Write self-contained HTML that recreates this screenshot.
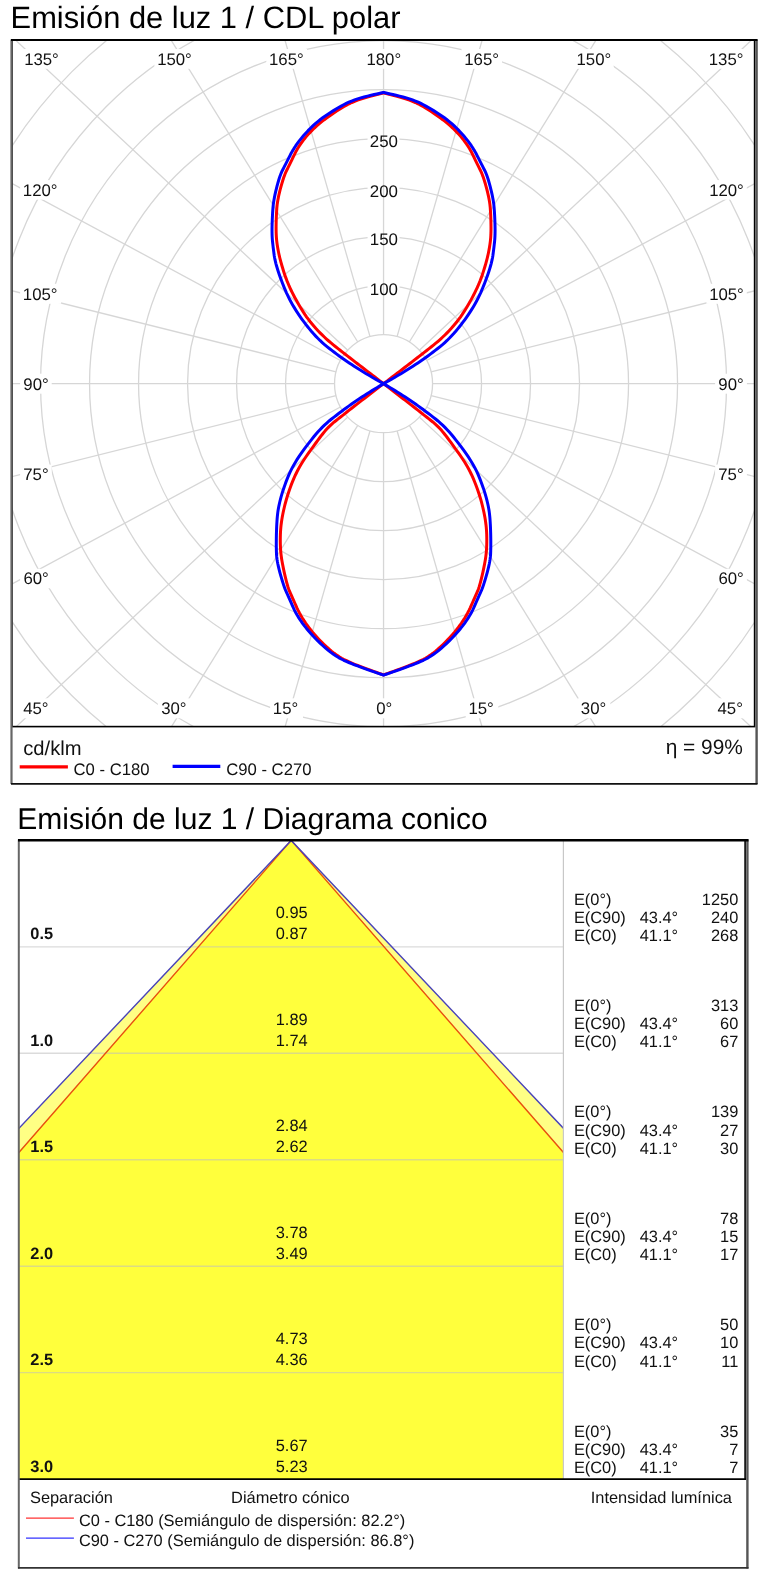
<!DOCTYPE html>
<html><head><meta charset="utf-8"><style>
html,body{margin:0;padding:0;background:#fff;}
body{width:764px;height:1585px;overflow:hidden;}
svg{display:block;font-family:"Liberation Sans",sans-serif;text-rendering:geometricPrecision;will-change:transform;}
</style></head><body>
<svg width="764" height="1585" viewBox="0 0 764 1585">
<clipPath id="pc"><rect x="12.0" y="40.0" width="742.6" height="686.6"/></clipPath>
<text x="10.56" y="28.3" font-size="30.86">Emisión de luz 1 / CDL polar</text>
<g clip-path="url(#pc)">
<circle cx="383.55" cy="383.7" r="49.00" fill="none" stroke="#d6d6d6" stroke-width="1.3"/>
<circle cx="383.55" cy="383.7" r="98.00" fill="none" stroke="#d6d6d6" stroke-width="1.3"/>
<circle cx="383.55" cy="383.7" r="147.00" fill="none" stroke="#d6d6d6" stroke-width="1.3"/>
<circle cx="383.55" cy="383.7" r="196.00" fill="none" stroke="#d6d6d6" stroke-width="1.3"/>
<circle cx="383.55" cy="383.7" r="245.00" fill="none" stroke="#d6d6d6" stroke-width="1.3"/>
<circle cx="383.55" cy="383.7" r="294.00" fill="none" stroke="#d6d6d6" stroke-width="1.3"/>
<circle cx="383.55" cy="383.7" r="343.00" fill="none" stroke="#d6d6d6" stroke-width="1.3"/>
<circle cx="383.55" cy="383.7" r="392.00" fill="none" stroke="#d6d6d6" stroke-width="1.3"/>
<circle cx="383.55" cy="383.7" r="441.00" fill="none" stroke="#d6d6d6" stroke-width="1.3"/>
<rect x="367.55" y="281.0" width="32" height="16" fill="#fff"/>
<rect x="367.55" y="231.5" width="32" height="16" fill="#fff"/>
<rect x="367.55" y="182.65" width="32" height="16" fill="#fff"/>
<rect x="367.55" y="133.2" width="32" height="16" fill="#fff"/>
<line x1="383.55" y1="334.70" x2="383.55" y2="-416.30" stroke="#d6d6d6" stroke-width="1.3"/>
<line x1="397.07" y1="336.60" x2="604.22" y2="-385.26" stroke="#d6d6d6" stroke-width="1.3"/>
<line x1="409.32" y1="342.02" x2="804.29" y2="-296.73" stroke="#d6d6d6" stroke-width="1.3"/>
<line x1="419.37" y1="350.26" x2="968.29" y2="-162.27" stroke="#d6d6d6" stroke-width="1.3"/>
<line x1="426.68" y1="360.45" x2="1087.75" y2="4.08" stroke="#d6d6d6" stroke-width="1.3"/>
<line x1="431.08" y1="371.81" x2="1159.63" y2="189.54" stroke="#d6d6d6" stroke-width="1.3"/>
<line x1="432.55" y1="383.70" x2="1183.55" y2="383.70" stroke="#d6d6d6" stroke-width="1.3"/>
<line x1="431.08" y1="395.59" x2="1159.63" y2="577.86" stroke="#d6d6d6" stroke-width="1.3"/>
<line x1="426.68" y1="406.95" x2="1087.75" y2="763.32" stroke="#d6d6d6" stroke-width="1.3"/>
<line x1="419.37" y1="417.14" x2="968.29" y2="929.67" stroke="#d6d6d6" stroke-width="1.3"/>
<line x1="409.32" y1="425.38" x2="804.29" y2="1064.13" stroke="#d6d6d6" stroke-width="1.3"/>
<line x1="397.07" y1="430.80" x2="604.22" y2="1152.66" stroke="#d6d6d6" stroke-width="1.3"/>
<line x1="383.55" y1="432.70" x2="383.55" y2="1183.70" stroke="#d6d6d6" stroke-width="1.3"/>
<line x1="370.03" y1="430.80" x2="162.88" y2="1152.66" stroke="#d6d6d6" stroke-width="1.3"/>
<line x1="357.78" y1="425.38" x2="-37.19" y2="1064.13" stroke="#d6d6d6" stroke-width="1.3"/>
<line x1="347.73" y1="417.14" x2="-201.19" y2="929.67" stroke="#d6d6d6" stroke-width="1.3"/>
<line x1="340.42" y1="406.95" x2="-320.65" y2="763.32" stroke="#d6d6d6" stroke-width="1.3"/>
<line x1="336.02" y1="395.59" x2="-392.53" y2="577.86" stroke="#d6d6d6" stroke-width="1.3"/>
<line x1="334.55" y1="383.70" x2="-416.45" y2="383.70" stroke="#d6d6d6" stroke-width="1.3"/>
<line x1="336.02" y1="371.81" x2="-392.53" y2="189.54" stroke="#d6d6d6" stroke-width="1.3"/>
<line x1="340.42" y1="360.45" x2="-320.65" y2="4.08" stroke="#d6d6d6" stroke-width="1.3"/>
<line x1="347.73" y1="350.26" x2="-201.19" y2="-162.27" stroke="#d6d6d6" stroke-width="1.3"/>
<line x1="357.78" y1="342.02" x2="-37.19" y2="-296.73" stroke="#d6d6d6" stroke-width="1.3"/>
<line x1="370.03" y1="336.60" x2="162.88" y2="-385.26" stroke="#d6d6d6" stroke-width="1.3"/>
</g>
<text x="383.85" y="294.92" font-size="16.9" text-anchor="middle" font-weight="normal" fill="#111" >100</text>
<text x="383.85" y="245.41" font-size="16.9" text-anchor="middle" font-weight="normal" fill="#111" >150</text>
<text x="383.85" y="196.56" font-size="16.9" text-anchor="middle" font-weight="normal" fill="#111" >200</text>
<text x="383.85" y="147.11" font-size="16.9" text-anchor="middle" font-weight="normal" fill="#111" >250</text>
<rect x="21.40" y="49.00" width="40.40" height="19.80" fill="#fff"/>
<rect x="154.40" y="49.00" width="40.30" height="19.80" fill="#fff"/>
<rect x="266.30" y="49.00" width="40.70" height="19.80" fill="#fff"/>
<rect x="363.70" y="49.00" width="40.50" height="19.80" fill="#fff"/>
<rect x="461.50" y="49.00" width="40.50" height="19.80" fill="#fff"/>
<rect x="573.80" y="49.00" width="39.90" height="19.80" fill="#fff"/>
<rect x="706.00" y="49.00" width="40.50" height="19.80" fill="#fff"/>
<rect x="20.10" y="180.10" width="41.00" height="19.60" fill="#fff"/>
<rect x="20.10" y="283.80" width="41.00" height="20.00" fill="#fff"/>
<rect x="20.10" y="373.70" width="31.60" height="20.00" fill="#fff"/>
<rect x="20.10" y="464.60" width="31.60" height="19.40" fill="#fff"/>
<rect x="20.10" y="568.80" width="31.60" height="19.50" fill="#fff"/>
<rect x="706.40" y="180.10" width="40.40" height="19.60" fill="#fff"/>
<rect x="706.40" y="283.80" width="40.40" height="20.00" fill="#fff"/>
<rect x="715.10" y="373.70" width="31.80" height="20.00" fill="#fff"/>
<rect x="715.10" y="464.60" width="31.80" height="19.40" fill="#fff"/>
<rect x="715.10" y="568.80" width="31.80" height="19.50" fill="#fff"/>
<rect x="19.60" y="698.30" width="33.70" height="20.00" fill="#fff"/>
<rect x="157.80" y="698.30" width="32.10" height="20.00" fill="#fff"/>
<rect x="270.10" y="698.30" width="32.90" height="20.00" fill="#fff"/>
<rect x="372.80" y="698.30" width="23.70" height="20.00" fill="#fff"/>
<rect x="465.70" y="698.30" width="32.60" height="20.00" fill="#fff"/>
<rect x="577.50" y="698.30" width="32.80" height="20.00" fill="#fff"/>
<rect x="713.90" y="698.30" width="33.30" height="20.00" fill="#fff"/>
<text x="24.14" y="64.80" font-size="16.8" text-anchor="start" font-weight="normal" fill="#111" >135°</text>
<text x="157.14" y="64.80" font-size="16.8" text-anchor="start" font-weight="normal" fill="#111" >150°</text>
<text x="269.04" y="64.80" font-size="16.8" text-anchor="start" font-weight="normal" fill="#111" >165°</text>
<text x="366.44" y="64.80" font-size="16.8" text-anchor="start" font-weight="normal" fill="#111" >180°</text>
<text x="464.24" y="64.80" font-size="16.8" text-anchor="start" font-weight="normal" fill="#111" >165°</text>
<text x="576.54" y="64.80" font-size="16.8" text-anchor="start" font-weight="normal" fill="#111" >150°</text>
<text x="708.74" y="64.80" font-size="16.8" text-anchor="start" font-weight="normal" fill="#111" >135°</text>
<text x="22.84" y="195.70" font-size="16.8" text-anchor="start" font-weight="normal" fill="#111" >120°</text>
<text x="22.84" y="299.80" font-size="16.8" text-anchor="start" font-weight="normal" fill="#111" >105°</text>
<text x="23.34" y="389.70" font-size="16.8" text-anchor="start" font-weight="normal" fill="#111" >90°</text>
<text x="23.26" y="480.00" font-size="16.8" text-anchor="start" font-weight="normal" fill="#111" >75°</text>
<text x="23.43" y="584.30" font-size="16.8" text-anchor="start" font-weight="normal" fill="#111" >60°</text>
<text x="709.14" y="195.70" font-size="16.8" text-anchor="start" font-weight="normal" fill="#111" >120°</text>
<text x="709.14" y="299.80" font-size="16.8" text-anchor="start" font-weight="normal" fill="#111" >105°</text>
<text x="718.34" y="389.70" font-size="16.8" text-anchor="start" font-weight="normal" fill="#111" >90°</text>
<text x="718.26" y="480.00" font-size="16.8" text-anchor="start" font-weight="normal" fill="#111" >75°</text>
<text x="718.43" y="584.30" font-size="16.8" text-anchor="start" font-weight="normal" fill="#111" >60°</text>
<text x="23.18" y="714.30" font-size="16.8" text-anchor="start" font-weight="normal" fill="#111" >45°</text>
<text x="161.13" y="714.30" font-size="16.8" text-anchor="start" font-weight="normal" fill="#111" >30°</text>
<text x="272.84" y="714.30" font-size="16.8" text-anchor="start" font-weight="normal" fill="#111" >15°</text>
<text x="376.13" y="714.30" font-size="16.8" text-anchor="start" font-weight="normal" fill="#111" >0°</text>
<text x="468.44" y="714.30" font-size="16.8" text-anchor="start" font-weight="normal" fill="#111" >15°</text>
<text x="580.83" y="714.30" font-size="16.8" text-anchor="start" font-weight="normal" fill="#111" >30°</text>
<text x="717.48" y="714.30" font-size="16.8" text-anchor="start" font-weight="normal" fill="#111" >45°</text>
<path d="M383.55,383.70 L383.24,383.46 L382.62,382.99 L381.69,382.28 L380.45,381.33 L378.90,380.14 L377.03,378.72 L374.86,377.06 L372.38,375.16 L369.90,373.26 L367.42,371.36 L364.94,369.45 L362.46,367.55 L359.98,365.64 L357.51,363.74 L355.04,361.83 L352.56,359.92 L350.11,358.01 L347.66,356.11 L345.23,354.22 L342.82,352.34 L340.42,350.46 L338.04,348.58 L335.67,346.72 L333.32,344.86 L331.00,342.96 L328.73,341.01 L326.50,339.03 L324.31,337.01 L322.16,334.95 L320.05,332.84 L317.98,330.70 L315.96,328.52 L313.99,326.29 L312.08,324.03 L310.22,321.74 L308.43,319.40 L306.69,317.02 L305.01,314.61 L303.39,312.16 L301.83,309.67 L300.32,307.20 L298.85,304.73 L297.44,302.28 L296.07,299.85 L294.75,297.43 L293.49,295.02 L292.27,292.62 L291.10,290.24 L289.98,287.84 L288.90,285.43 L287.88,283.01 L286.89,280.57 L285.96,278.12 L285.07,275.65 L284.23,273.17 L283.44,270.68 L282.70,268.28 L282.01,265.98 L281.37,263.78 L280.78,261.67 L280.25,259.66 L279.76,257.75 L279.33,255.93 L278.95,254.22 L278.59,252.51 L278.25,250.81 L277.94,249.12 L277.65,247.45 L277.38,245.78 L277.13,244.13 L276.91,242.49 L276.71,240.85 L276.54,239.12 L276.39,237.30 L276.28,235.39 L276.19,233.37 L276.13,231.27 L276.10,229.06 L276.10,226.77 L276.13,224.38 L276.17,222.03 L276.23,219.72 L276.31,217.45 L276.40,215.23 L276.51,213.05 L276.64,210.91 L276.78,208.81 L276.94,206.75 L277.17,204.59 L277.49,202.31 L277.89,199.92 L278.36,197.42 L278.92,194.81 L279.55,192.09 L280.26,189.25 L281.05,186.31 L281.84,183.55 L282.62,180.96 L283.40,178.56 L284.17,176.34 L284.95,174.30 L285.71,172.44 L286.48,170.77 L287.24,169.27 L288.05,167.66 L288.90,165.94 L289.80,164.11 L290.76,162.17 L291.76,160.11 L292.80,157.94 L293.90,155.67 L295.04,153.28 L296.29,150.90 L297.64,148.54 L299.11,146.18 L300.67,143.84 L302.35,141.51 L304.13,139.20 L306.02,136.89 L308.01,134.60 L310.08,132.36 L312.22,130.17 L314.43,128.02 L316.71,125.93 L319.06,123.88 L321.48,121.89 L323.98,119.94 L326.55,118.04 L329.10,116.21 L331.63,114.44 L334.15,112.73 L336.65,111.08 L339.14,109.50 L341.60,107.97 L344.05,106.52 L346.49,105.12 L349.06,103.78 L351.78,102.51 L354.64,101.29 L357.64,100.13 L360.78,99.04 L364.07,98.00 L367.49,97.03 L371.06,96.11 L374.18,95.31 L376.86,94.62 L379.09,94.05 L380.87,93.59 L382.21,93.24 L383.10,93.01 L383.55,92.90 L384.00,93.01 L384.89,93.24 L386.23,93.59 L388.01,94.05 L390.24,94.62 L392.92,95.31 L396.04,96.11 L399.61,97.03 L403.03,98.00 L406.32,99.04 L409.46,100.13 L412.46,101.29 L415.32,102.51 L418.04,103.78 L420.61,105.12 L423.05,106.52 L425.50,107.97 L427.96,109.50 L430.45,111.08 L432.95,112.73 L435.47,114.44 L438.00,116.21 L440.55,118.04 L443.12,119.94 L445.62,121.89 L448.04,123.88 L450.39,125.93 L452.67,128.02 L454.88,130.17 L457.02,132.36 L459.09,134.60 L461.08,136.89 L462.97,139.20 L464.75,141.51 L466.43,143.84 L467.99,146.18 L469.46,148.54 L470.81,150.90 L472.06,153.28 L473.20,155.67 L474.30,157.94 L475.34,160.11 L476.34,162.17 L477.30,164.11 L478.20,165.94 L479.05,167.66 L479.86,169.27 L480.62,170.77 L481.39,172.44 L482.15,174.30 L482.93,176.34 L483.70,178.56 L484.48,180.96 L485.26,183.55 L486.05,186.31 L486.84,189.25 L487.55,192.09 L488.18,194.81 L488.74,197.42 L489.21,199.92 L489.61,202.31 L489.93,204.59 L490.16,206.75 L490.32,208.81 L490.46,210.91 L490.59,213.05 L490.70,215.23 L490.79,217.45 L490.87,219.72 L490.93,222.03 L490.97,224.38 L491.00,226.77 L491.00,229.06 L490.97,231.27 L490.91,233.37 L490.82,235.39 L490.71,237.30 L490.56,239.12 L490.39,240.85 L490.19,242.49 L489.97,244.13 L489.72,245.78 L489.45,247.45 L489.16,249.12 L488.85,250.81 L488.51,252.51 L488.15,254.22 L487.77,255.93 L487.34,257.75 L486.85,259.66 L486.32,261.67 L485.73,263.78 L485.09,265.98 L484.40,268.28 L483.66,270.68 L482.87,273.17 L482.03,275.65 L481.14,278.12 L480.21,280.57 L479.22,283.01 L478.20,285.43 L477.12,287.84 L476.00,290.24 L474.83,292.62 L473.61,295.02 L472.35,297.43 L471.03,299.85 L469.66,302.28 L468.25,304.73 L466.78,307.20 L465.27,309.67 L463.71,312.16 L462.09,314.61 L460.41,317.02 L458.67,319.40 L456.88,321.74 L455.02,324.03 L453.11,326.29 L451.14,328.52 L449.12,330.70 L447.05,332.84 L444.94,334.95 L442.79,337.01 L440.60,339.03 L438.37,341.01 L436.10,342.96 L433.78,344.86 L431.43,346.72 L429.06,348.58 L426.68,350.46 L424.28,352.34 L421.87,354.22 L419.44,356.11 L416.99,358.01 L414.54,359.92 L412.06,361.83 L409.59,363.74 L407.12,365.64 L404.64,367.55 L402.16,369.45 L399.68,371.36 L397.20,373.26 L394.72,375.16 L392.24,377.06 L390.07,378.72 L388.20,380.14 L386.65,381.33 L385.41,382.28 L384.48,382.99 L383.86,383.46 L383.55,383.70" fill="none" stroke="#ff0000" stroke-width="3" stroke-linejoin="round"/>
<path d="M383.55,383.70 L383.23,383.95 L382.59,384.44 L381.62,385.17 L380.33,386.16 L378.73,387.39 L376.80,388.86 L374.55,390.58 L371.97,392.54 L369.41,394.51 L366.85,396.47 L364.30,398.44 L361.76,400.40 L359.22,402.37 L356.70,404.33 L354.18,406.29 L351.67,408.26 L349.23,410.16 L346.87,412.02 L344.58,413.81 L342.36,415.56 L340.22,417.25 L338.15,418.88 L336.16,420.46 L334.24,421.98 L332.34,423.61 L330.47,425.33 L328.62,427.15 L326.79,429.08 L324.98,431.10 L323.20,433.22 L321.44,435.45 L319.70,437.77 L317.95,440.12 L316.21,442.49 L314.46,444.89 L312.70,447.31 L310.95,449.75 L309.18,452.22 L307.42,454.72 L305.65,457.24 L303.96,459.75 L302.35,462.26 L300.83,464.76 L299.38,467.26 L298.02,469.75 L296.74,472.24 L295.54,474.73 L294.42,477.21 L293.35,479.69 L292.31,482.18 L291.32,484.67 L290.38,487.17 L289.48,489.67 L288.62,492.18 L287.80,494.69 L287.03,497.21 L286.29,499.72 L285.60,502.23 L284.94,504.74 L284.32,507.24 L283.74,509.74 L283.19,512.24 L282.69,514.73 L282.22,517.22 L281.80,519.72 L281.44,522.22 L281.12,524.71 L280.86,527.22 L280.65,529.72 L280.49,532.23 L280.38,534.74 L280.32,537.25 L280.30,539.70 L280.31,542.07 L280.35,544.38 L280.43,546.61 L280.54,548.77 L280.69,550.87 L280.87,552.89 L281.08,554.84 L281.35,556.93 L281.68,559.16 L282.07,561.52 L282.53,564.01 L283.04,566.64 L283.60,569.41 L284.23,572.31 L284.92,575.35 L285.59,578.16 L286.24,580.76 L286.87,583.13 L287.48,585.28 L288.07,587.20 L288.65,588.91 L289.20,590.39 L289.74,591.65 L290.35,593.07 L291.05,594.67 L291.82,596.44 L292.68,598.37 L293.61,600.47 L294.63,602.74 L295.72,605.18 L296.90,607.79 L298.14,610.37 L299.47,612.93 L300.86,615.45 L302.33,617.94 L303.87,620.41 L305.49,622.85 L307.17,625.26 L308.94,627.64 L310.80,630.03 L312.76,632.43 L314.82,634.83 L316.99,637.24 L319.25,639.66 L321.62,642.09 L324.08,644.52 L326.65,646.96 L329.19,649.24 L331.72,651.36 L334.23,653.32 L336.73,655.12 L339.20,656.76 L341.66,658.24 L344.10,659.55 L346.52,660.71 L349.09,661.88 L351.80,663.06 L354.65,664.26 L357.65,665.47 L360.78,666.70 L364.07,667.94 L367.49,669.19 L371.06,670.46 L374.18,671.57 L376.86,672.52 L379.09,673.31 L380.87,673.95 L382.21,674.42 L383.10,674.74 L383.55,674.90 L384.00,674.74 L384.89,674.42 L386.23,673.95 L388.01,673.31 L390.24,672.52 L392.92,671.57 L396.04,670.46 L399.61,669.19 L403.03,667.94 L406.32,666.70 L409.45,665.47 L412.45,664.26 L415.30,663.06 L418.01,661.88 L420.58,660.71 L423.00,659.55 L425.44,658.24 L427.90,656.76 L430.37,655.12 L432.87,653.32 L435.38,651.36 L437.91,649.24 L440.45,646.96 L443.02,644.52 L445.48,642.09 L447.85,639.66 L450.11,637.24 L452.28,634.83 L454.34,632.43 L456.30,630.03 L458.16,627.64 L459.93,625.26 L461.61,622.85 L463.23,620.41 L464.77,617.94 L466.24,615.45 L467.63,612.93 L468.96,610.37 L470.20,607.79 L471.38,605.18 L472.47,602.74 L473.49,600.47 L474.42,598.37 L475.28,596.44 L476.05,594.67 L476.75,593.07 L477.36,591.65 L477.90,590.39 L478.45,588.91 L479.03,587.20 L479.62,585.28 L480.23,583.13 L480.86,580.76 L481.51,578.16 L482.18,575.35 L482.87,572.31 L483.50,569.41 L484.06,566.64 L484.57,564.01 L485.03,561.52 L485.42,559.16 L485.75,556.93 L486.02,554.84 L486.23,552.89 L486.41,550.87 L486.56,548.77 L486.67,546.61 L486.75,544.38 L486.79,542.07 L486.80,539.70 L486.78,537.25 L486.72,534.74 L486.61,532.23 L486.45,529.72 L486.24,527.22 L485.98,524.71 L485.66,522.22 L485.30,519.72 L484.88,517.22 L484.41,514.73 L483.91,512.24 L483.36,509.74 L482.78,507.24 L482.16,504.74 L481.50,502.23 L480.81,499.72 L480.07,497.21 L479.30,494.69 L478.48,492.18 L477.62,489.67 L476.72,487.17 L475.78,484.67 L474.79,482.18 L473.75,479.69 L472.68,477.21 L471.56,474.73 L470.36,472.24 L469.08,469.75 L467.72,467.26 L466.27,464.76 L464.75,462.26 L463.14,459.75 L461.45,457.24 L459.68,454.72 L457.92,452.22 L456.15,449.75 L454.40,447.31 L452.64,444.89 L450.89,442.49 L449.15,440.12 L447.40,437.77 L445.66,435.45 L443.90,433.22 L442.12,431.10 L440.31,429.08 L438.48,427.15 L436.63,425.33 L434.76,423.61 L432.86,421.98 L430.94,420.46 L428.95,418.88 L426.88,417.25 L424.74,415.56 L422.52,413.81 L420.23,412.02 L417.87,410.16 L415.43,408.26 L412.92,406.29 L410.40,404.33 L407.88,402.37 L405.34,400.40 L402.80,398.44 L400.25,396.47 L397.69,394.51 L395.13,392.54 L392.55,390.58 L390.30,388.86 L388.37,387.39 L386.77,386.16 L385.48,385.17 L384.51,384.44 L383.87,383.95 L383.55,383.70" fill="none" stroke="#ff0000" stroke-width="3" stroke-linejoin="round"/>
<path d="M383.55,383.70 L383.44,383.64 L383.22,383.52 L382.90,383.33 L382.46,383.09 L381.91,382.79 L381.26,382.42 L380.49,381.99 L379.62,381.50 L378.57,380.91 L377.33,380.20 L375.92,379.39 L374.32,378.46 L372.55,377.43 L370.59,376.29 L368.45,375.04 L366.14,373.68 L363.79,372.27 L361.42,370.83 L359.03,369.34 L356.61,367.80 L354.17,366.23 L351.70,364.61 L349.21,362.95 L346.69,361.24 L344.18,359.51 L341.68,357.75 L339.20,355.96 L336.73,354.14 L334.27,352.29 L331.82,350.41 L329.38,348.51 L326.96,346.57 L324.59,344.59 L322.28,342.54 L320.02,340.45 L317.82,338.30 L315.68,336.09 L313.59,333.84 L311.56,331.53 L309.59,329.16 L307.66,326.78 L305.78,324.38 L303.95,321.96 L302.17,319.53 L300.43,317.08 L298.74,314.61 L297.10,312.13 L295.51,309.63 L293.99,307.14 L292.53,304.67 L291.15,302.22 L289.84,299.78 L288.61,297.36 L287.44,294.95 L286.34,292.56 L285.32,290.19 L284.32,287.80 L283.34,285.40 L282.39,282.98 L281.46,280.55 L280.56,278.11 L279.69,275.65 L278.84,273.18 L278.01,270.69 L277.26,268.31 L276.58,266.01 L275.97,263.81 L275.44,261.71 L274.98,259.71 L274.60,257.79 L274.29,255.98 L274.06,254.26 L273.83,252.55 L273.61,250.85 L273.40,249.16 L273.19,247.48 L273.00,245.80 L272.81,244.14 L272.63,242.49 L272.46,240.85 L272.31,239.11 L272.20,237.28 L272.11,235.36 L272.06,233.35 L272.03,231.25 L272.03,229.05 L272.06,226.76 L272.12,224.38 L272.19,222.04 L272.27,219.74 L272.37,217.48 L272.48,215.26 L272.60,213.09 L272.74,210.95 L272.89,208.86 L273.05,206.81 L273.28,204.65 L273.59,202.37 L273.97,199.98 L274.42,197.48 L274.95,194.86 L275.54,192.13 L276.22,189.28 L276.96,186.32 L277.71,183.55 L278.46,180.96 L279.21,178.55 L279.97,176.32 L280.73,174.28 L281.49,172.42 L282.25,170.74 L283.01,169.24 L283.84,167.64 L284.71,165.92 L285.65,164.09 L286.64,162.15 L287.69,160.10 L288.79,157.94 L289.95,155.67 L291.16,153.29 L292.51,150.87 L294.00,148.43 L295.62,145.96 L297.37,143.46 L299.26,140.94 L301.28,138.38 L303.43,135.79 L305.72,133.18 L308.05,130.66 L310.43,128.24 L312.85,125.91 L315.32,123.68 L317.83,121.55 L320.39,119.51 L323.00,117.57 L325.65,115.73 L328.28,113.95 L330.89,112.25 L333.49,110.61 L336.07,109.04 L338.63,107.54 L341.18,106.11 L343.71,104.75 L346.23,103.45 L348.87,102.22 L351.65,101.05 L354.56,99.94 L357.60,98.88 L360.77,97.89 L364.07,96.96 L367.50,96.09 L371.07,95.28 L374.19,94.57 L376.86,93.97 L379.09,93.46 L380.88,93.06 L382.21,92.75 L383.10,92.55 L383.55,92.45 L384.00,92.55 L384.89,92.75 L386.22,93.06 L388.01,93.46 L390.24,93.97 L392.91,94.57 L396.03,95.28 L399.60,96.09 L403.03,96.96 L406.33,97.89 L409.50,98.88 L412.54,99.94 L415.45,101.05 L418.23,102.22 L420.87,103.45 L423.39,104.75 L425.92,106.11 L428.47,107.54 L431.03,109.04 L433.61,110.61 L436.21,112.25 L438.82,113.95 L441.45,115.73 L444.10,117.57 L446.71,119.51 L449.27,121.55 L451.78,123.68 L454.25,125.91 L456.67,128.24 L459.05,130.66 L461.38,133.18 L463.67,135.79 L465.82,138.38 L467.84,140.94 L469.73,143.46 L471.48,145.96 L473.10,148.43 L474.59,150.87 L475.94,153.29 L477.15,155.67 L478.31,157.94 L479.41,160.10 L480.46,162.15 L481.45,164.09 L482.39,165.92 L483.26,167.64 L484.09,169.24 L484.85,170.74 L485.61,172.42 L486.37,174.28 L487.13,176.32 L487.89,178.55 L488.64,180.96 L489.39,183.55 L490.14,186.32 L490.88,189.28 L491.56,192.13 L492.15,194.86 L492.68,197.48 L493.13,199.98 L493.51,202.37 L493.82,204.65 L494.05,206.81 L494.21,208.86 L494.36,210.95 L494.50,213.09 L494.62,215.26 L494.73,217.48 L494.83,219.74 L494.91,222.04 L494.98,224.38 L495.04,226.76 L495.07,229.05 L495.07,231.25 L495.04,233.35 L494.99,235.36 L494.90,237.28 L494.79,239.11 L494.64,240.85 L494.47,242.49 L494.29,244.14 L494.10,245.80 L493.91,247.48 L493.70,249.16 L493.49,250.85 L493.27,252.55 L493.04,254.26 L492.81,255.98 L492.50,257.79 L492.12,259.71 L491.66,261.71 L491.13,263.81 L490.52,266.01 L489.84,268.31 L489.09,270.69 L488.26,273.18 L487.41,275.65 L486.54,278.11 L485.64,280.55 L484.71,282.98 L483.76,285.40 L482.78,287.80 L481.78,290.19 L480.76,292.56 L479.66,294.95 L478.49,297.36 L477.26,299.78 L475.95,302.22 L474.57,304.67 L473.11,307.14 L471.59,309.63 L470.00,312.13 L468.36,314.61 L466.67,317.08 L464.93,319.53 L463.15,321.96 L461.32,324.38 L459.44,326.78 L457.51,329.16 L455.54,331.53 L453.51,333.84 L451.42,336.09 L449.28,338.30 L447.08,340.45 L444.82,342.54 L442.51,344.59 L440.14,346.57 L437.72,348.51 L435.28,350.41 L432.83,352.29 L430.37,354.14 L427.90,355.96 L425.42,357.75 L422.92,359.51 L420.41,361.24 L417.89,362.95 L415.40,364.61 L412.93,366.23 L410.49,367.80 L408.07,369.34 L405.68,370.83 L403.31,372.27 L400.96,373.68 L398.65,375.04 L396.51,376.29 L394.55,377.43 L392.78,378.46 L391.18,379.39 L389.77,380.20 L388.53,380.91 L387.48,381.50 L386.61,381.99 L385.84,382.42 L385.19,382.79 L384.64,383.09 L384.20,383.33 L383.88,383.52 L383.66,383.64 L383.55,383.70" fill="none" stroke="#0000ff" stroke-width="3" stroke-linejoin="round"/>
<path d="M383.55,383.70 L383.23,383.89 L382.59,384.27 L381.64,384.85 L380.36,385.62 L378.77,386.57 L376.86,387.72 L374.62,389.06 L372.07,390.60 L369.52,392.16 L366.97,393.76 L364.41,395.40 L361.85,397.07 L359.29,398.77 L356.72,400.51 L354.15,402.28 L351.58,404.08 L349.03,405.90 L346.49,407.73 L343.96,409.58 L341.45,411.43 L338.95,413.30 L336.47,415.18 L334.00,417.08 L331.55,418.98 L329.14,420.97 L326.78,423.03 L324.46,425.17 L322.19,427.39 L319.97,429.69 L317.79,432.06 L315.66,434.52 L313.58,437.05 L311.54,439.58 L309.55,442.10 L307.61,444.63 L305.71,447.14 L303.86,449.66 L302.06,452.17 L300.31,454.68 L298.60,457.18 L296.98,459.68 L295.43,462.18 L293.97,464.68 L292.59,467.18 L291.30,469.68 L290.08,472.17 L288.95,474.66 L287.90,477.16 L286.89,479.65 L285.92,482.15 L285.00,484.65 L284.12,487.15 L283.28,489.66 L282.48,492.16 L281.73,494.67 L281.01,497.19 L280.36,499.63 L279.77,502.01 L279.24,504.31 L278.77,506.55 L278.36,508.72 L278.02,510.82 L277.73,512.85 L277.51,514.81 L277.30,516.91 L277.11,519.14 L276.95,521.50 L276.80,524.00 L276.67,526.63 L276.56,529.40 L276.47,532.31 L276.39,535.34 L276.34,538.25 L276.31,541.02 L276.30,543.65 L276.31,546.15 L276.34,548.51 L276.39,550.75 L276.46,552.84 L276.55,554.81 L276.73,556.90 L277.02,559.13 L277.39,561.50 L277.86,564.00 L278.43,566.64 L279.09,569.40 L279.84,572.31 L280.69,575.35 L281.50,578.16 L282.28,580.75 L283.03,583.12 L283.73,585.26 L284.41,587.18 L285.05,588.88 L285.65,590.35 L286.21,591.60 L286.85,593.02 L287.56,594.61 L288.34,596.37 L289.20,598.30 L290.12,600.40 L291.11,602.67 L292.18,605.11 L293.32,607.72 L294.57,610.33 L295.93,612.93 L297.41,615.53 L299.00,618.12 L300.71,620.71 L302.53,623.29 L304.46,625.87 L306.50,628.44 L308.62,630.99 L310.82,633.51 L313.09,636.01 L315.45,638.48 L317.87,640.93 L320.38,643.35 L322.96,645.74 L325.62,648.11 L328.26,650.32 L330.88,652.37 L333.48,654.27 L336.07,656.01 L338.63,657.59 L341.18,659.01 L343.71,660.27 L346.22,661.38 L348.86,662.50 L351.63,663.64 L354.54,664.80 L357.58,665.97 L360.75,667.16 L364.05,668.36 L367.49,669.58 L371.06,670.82 L374.18,671.90 L376.86,672.83 L379.09,673.60 L380.87,674.22 L382.21,674.69 L383.10,675.00 L383.55,675.15 L384.00,675.00 L384.89,674.69 L386.23,674.22 L388.01,673.60 L390.24,672.83 L392.92,671.90 L396.04,670.82 L399.61,669.58 L403.05,668.36 L406.35,667.16 L409.52,665.97 L412.56,664.80 L415.47,663.64 L418.24,662.50 L420.88,661.38 L423.39,660.27 L425.92,659.01 L428.47,657.59 L431.03,656.01 L433.62,654.27 L436.22,652.37 L438.84,650.32 L441.48,648.11 L444.14,645.74 L446.72,643.35 L449.23,640.93 L451.65,638.48 L454.01,636.01 L456.28,633.51 L458.48,630.99 L460.60,628.44 L462.64,625.87 L464.57,623.29 L466.39,620.71 L468.10,618.12 L469.69,615.53 L471.17,612.93 L472.53,610.33 L473.78,607.72 L474.92,605.11 L475.99,602.67 L476.98,600.40 L477.90,598.30 L478.76,596.37 L479.54,594.61 L480.25,593.02 L480.89,591.60 L481.45,590.35 L482.05,588.88 L482.69,587.18 L483.37,585.26 L484.07,583.12 L484.82,580.75 L485.60,578.16 L486.41,575.35 L487.26,572.31 L488.01,569.40 L488.67,566.64 L489.24,564.00 L489.71,561.50 L490.08,559.13 L490.37,556.90 L490.55,554.81 L490.64,552.84 L490.71,550.75 L490.76,548.51 L490.79,546.15 L490.80,543.65 L490.79,541.02 L490.76,538.25 L490.71,535.34 L490.63,532.31 L490.54,529.40 L490.43,526.63 L490.30,524.00 L490.15,521.50 L489.99,519.14 L489.80,516.91 L489.59,514.81 L489.37,512.85 L489.08,510.82 L488.74,508.72 L488.33,506.55 L487.86,504.31 L487.33,502.01 L486.74,499.63 L486.09,497.19 L485.37,494.67 L484.62,492.16 L483.82,489.66 L482.98,487.15 L482.10,484.65 L481.18,482.15 L480.21,479.65 L479.20,477.16 L478.15,474.66 L477.02,472.17 L475.80,469.68 L474.51,467.18 L473.13,464.68 L471.67,462.18 L470.12,459.68 L468.50,457.18 L466.79,454.68 L465.04,452.17 L463.24,449.66 L461.39,447.14 L459.49,444.63 L457.55,442.10 L455.56,439.58 L453.52,437.05 L451.44,434.52 L449.31,432.06 L447.13,429.69 L444.91,427.39 L442.64,425.17 L440.32,423.03 L437.96,420.97 L435.55,418.98 L433.10,417.08 L430.63,415.18 L428.15,413.30 L425.65,411.43 L423.14,409.58 L420.61,407.73 L418.07,405.90 L415.52,404.08 L412.95,402.28 L410.38,400.51 L407.81,398.77 L405.25,397.07 L402.69,395.40 L400.13,393.76 L397.58,392.16 L395.03,390.60 L392.48,389.06 L390.24,387.72 L388.33,386.57 L386.74,385.62 L385.46,384.85 L384.51,384.27 L383.87,383.89 L383.55,383.70" fill="none" stroke="#0000ff" stroke-width="3" stroke-linejoin="round"/>
<rect x="12.0" y="40.0" width="742.6" height="686.6" fill="none" stroke="#000" stroke-width="1.6"/>
<line x1="11.5" y1="39.5" x2="11.5" y2="784" stroke="#666" stroke-width="2.2"/>
<line x1="756.6" y1="39.5" x2="756.6" y2="784" stroke="#555" stroke-width="2.4"/>
<line x1="11" y1="40" x2="757.5" y2="40" stroke="#000" stroke-width="2.2"/>
<line x1="11" y1="783.8" x2="757.5" y2="783.8" stroke="#111" stroke-width="1.8"/>
<text x="23.21" y="754.50" font-size="20.2" text-anchor="start" font-weight="normal" fill="#111" >cd/klm</text>
<line x1="19.7" y1="766.9" x2="67.9" y2="766.9" stroke="#f00" stroke-width="3.2"/>
<text x="73.57" y="775.00" font-size="16.7" text-anchor="start" font-weight="normal" fill="#111" >C0 - C180</text>
<line x1="172.6" y1="766.4" x2="220.3" y2="766.4" stroke="#00f" stroke-width="3.2"/>
<text x="226.16" y="774.80" font-size="16.7" text-anchor="start" font-weight="normal" fill="#111" >C90 - C270</text>
<text x="742.90" y="754.40" font-size="20.9" text-anchor="end" font-weight="normal" fill="#111" >η = 99%</text>
<text x="17.25" y="828.6" font-size="30.03">Emisión de luz 1 / Diagrama conico</text>
<clipPath id="cc"><rect x="19.0" y="840.4" width="544.4" height="638.6999999999999"/></clipPath>
<g clip-path="url(#cc)">
<polygon points="291.2,840.4 -370.76,1540.4 953.16,1540.4" fill="#ffff84"/>
<polygon points="291.2,840.4 -319.45,1540.4 901.85,1540.4" fill="#ffff3c"/>
<line x1="19.0" y1="946.85" x2="563.4" y2="946.85" stroke="#bebebe" stroke-opacity="0.55" stroke-width="1.4"/>
<line x1="19.0" y1="1053.30" x2="563.4" y2="1053.30" stroke="#bebebe" stroke-opacity="0.55" stroke-width="1.4"/>
<line x1="19.0" y1="1159.75" x2="563.4" y2="1159.75" stroke="#bebebe" stroke-opacity="0.55" stroke-width="1.4"/>
<line x1="19.0" y1="1266.20" x2="563.4" y2="1266.20" stroke="#bebebe" stroke-opacity="0.55" stroke-width="1.4"/>
<line x1="19.0" y1="1372.65" x2="563.4" y2="1372.65" stroke="#bebebe" stroke-opacity="0.55" stroke-width="1.4"/>
<polyline points="-319.45,1540.4 291.2,840.4 901.85,1540.4" fill="none" stroke="#e85010" stroke-width="1.4"/>
<polyline points="-370.76,1540.4 291.2,840.4 953.16,1540.4" fill="none" stroke="#4a44b8" stroke-width="1.4"/>
</g>
<line x1="563.4" y1="840.4" x2="563.4" y2="1479.1" stroke="#c8c8c8" stroke-width="1.2"/>
<line x1="18" y1="1479.10" x2="746" y2="1479.10" stroke="#000" stroke-width="1.6"/>
<line x1="745.1" y1="840.4" x2="745.1" y2="1479.1" stroke="#000" stroke-width="1.6"/>
<line x1="18.8" y1="839.5" x2="18.8" y2="1568.5" stroke="#666" stroke-width="2.0"/>
<line x1="747.4" y1="839.5" x2="747.4" y2="1568.5" stroke="#555" stroke-width="2.4"/>
<line x1="18" y1="840.2" x2="748.5" y2="840.2" stroke="#000" stroke-width="2.4"/>
<line x1="18" y1="1567.9" x2="748.5" y2="1567.9" stroke="#333" stroke-width="1.8"/>
<text x="30.34" y="939.25" font-size="16.4" text-anchor="start" font-weight="bold" fill="#111" >0.5</text>
<text x="291.70" y="918.25" font-size="16.4" text-anchor="middle" font-weight="normal" fill="#111" >0.95</text>
<text x="291.70" y="939.25" font-size="16.4" text-anchor="middle" font-weight="normal" fill="#111" >0.87</text>
<text x="573.89" y="904.55" font-size="16.4" text-anchor="start" font-weight="normal" fill="#111" >E(0°)</text>
<text x="573.89" y="922.65" font-size="16.4" text-anchor="start" font-weight="normal" fill="#111" >E(C90)</text>
<text x="573.89" y="940.75" font-size="16.4" text-anchor="start" font-weight="normal" fill="#111" >E(C0)</text>
<text x="639.69" y="922.65" font-size="16.4" text-anchor="start" font-weight="normal" fill="#111" >43.4°</text>
<text x="639.69" y="940.75" font-size="16.4" text-anchor="start" font-weight="normal" fill="#111" >41.1°</text>
<text x="738.30" y="904.55" font-size="16.4" text-anchor="end" font-weight="normal" fill="#111" >1250</text>
<text x="738.30" y="922.65" font-size="16.4" text-anchor="end" font-weight="normal" fill="#111" >240</text>
<text x="738.30" y="940.75" font-size="16.4" text-anchor="end" font-weight="normal" fill="#111" >268</text>
<text x="30.34" y="1045.70" font-size="16.4" text-anchor="start" font-weight="bold" fill="#111" >1.0</text>
<text x="291.70" y="1024.70" font-size="16.4" text-anchor="middle" font-weight="normal" fill="#111" >1.89</text>
<text x="291.70" y="1045.70" font-size="16.4" text-anchor="middle" font-weight="normal" fill="#111" >1.74</text>
<text x="573.89" y="1011.00" font-size="16.4" text-anchor="start" font-weight="normal" fill="#111" >E(0°)</text>
<text x="573.89" y="1029.10" font-size="16.4" text-anchor="start" font-weight="normal" fill="#111" >E(C90)</text>
<text x="573.89" y="1047.20" font-size="16.4" text-anchor="start" font-weight="normal" fill="#111" >E(C0)</text>
<text x="639.69" y="1029.10" font-size="16.4" text-anchor="start" font-weight="normal" fill="#111" >43.4°</text>
<text x="639.69" y="1047.20" font-size="16.4" text-anchor="start" font-weight="normal" fill="#111" >41.1°</text>
<text x="738.30" y="1011.00" font-size="16.4" text-anchor="end" font-weight="normal" fill="#111" >313</text>
<text x="738.30" y="1029.10" font-size="16.4" text-anchor="end" font-weight="normal" fill="#111" >60</text>
<text x="738.30" y="1047.20" font-size="16.4" text-anchor="end" font-weight="normal" fill="#111" >67</text>
<text x="30.34" y="1152.15" font-size="16.4" text-anchor="start" font-weight="bold" fill="#111" >1.5</text>
<text x="291.70" y="1131.15" font-size="16.4" text-anchor="middle" font-weight="normal" fill="#111" >2.84</text>
<text x="291.70" y="1152.15" font-size="16.4" text-anchor="middle" font-weight="normal" fill="#111" >2.62</text>
<text x="573.89" y="1117.45" font-size="16.4" text-anchor="start" font-weight="normal" fill="#111" >E(0°)</text>
<text x="573.89" y="1135.55" font-size="16.4" text-anchor="start" font-weight="normal" fill="#111" >E(C90)</text>
<text x="573.89" y="1153.65" font-size="16.4" text-anchor="start" font-weight="normal" fill="#111" >E(C0)</text>
<text x="639.69" y="1135.55" font-size="16.4" text-anchor="start" font-weight="normal" fill="#111" >43.4°</text>
<text x="639.69" y="1153.65" font-size="16.4" text-anchor="start" font-weight="normal" fill="#111" >41.1°</text>
<text x="738.30" y="1117.45" font-size="16.4" text-anchor="end" font-weight="normal" fill="#111" >139</text>
<text x="738.30" y="1135.55" font-size="16.4" text-anchor="end" font-weight="normal" fill="#111" >27</text>
<text x="738.30" y="1153.65" font-size="16.4" text-anchor="end" font-weight="normal" fill="#111" >30</text>
<text x="30.34" y="1258.60" font-size="16.4" text-anchor="start" font-weight="bold" fill="#111" >2.0</text>
<text x="291.70" y="1237.60" font-size="16.4" text-anchor="middle" font-weight="normal" fill="#111" >3.78</text>
<text x="291.70" y="1258.60" font-size="16.4" text-anchor="middle" font-weight="normal" fill="#111" >3.49</text>
<text x="573.89" y="1223.90" font-size="16.4" text-anchor="start" font-weight="normal" fill="#111" >E(0°)</text>
<text x="573.89" y="1242.00" font-size="16.4" text-anchor="start" font-weight="normal" fill="#111" >E(C90)</text>
<text x="573.89" y="1260.10" font-size="16.4" text-anchor="start" font-weight="normal" fill="#111" >E(C0)</text>
<text x="639.69" y="1242.00" font-size="16.4" text-anchor="start" font-weight="normal" fill="#111" >43.4°</text>
<text x="639.69" y="1260.10" font-size="16.4" text-anchor="start" font-weight="normal" fill="#111" >41.1°</text>
<text x="738.30" y="1223.90" font-size="16.4" text-anchor="end" font-weight="normal" fill="#111" >78</text>
<text x="738.30" y="1242.00" font-size="16.4" text-anchor="end" font-weight="normal" fill="#111" >15</text>
<text x="738.30" y="1260.10" font-size="16.4" text-anchor="end" font-weight="normal" fill="#111" >17</text>
<text x="30.34" y="1365.05" font-size="16.4" text-anchor="start" font-weight="bold" fill="#111" >2.5</text>
<text x="291.70" y="1344.05" font-size="16.4" text-anchor="middle" font-weight="normal" fill="#111" >4.73</text>
<text x="291.70" y="1365.05" font-size="16.4" text-anchor="middle" font-weight="normal" fill="#111" >4.36</text>
<text x="573.89" y="1330.35" font-size="16.4" text-anchor="start" font-weight="normal" fill="#111" >E(0°)</text>
<text x="573.89" y="1348.45" font-size="16.4" text-anchor="start" font-weight="normal" fill="#111" >E(C90)</text>
<text x="573.89" y="1366.55" font-size="16.4" text-anchor="start" font-weight="normal" fill="#111" >E(C0)</text>
<text x="639.69" y="1348.45" font-size="16.4" text-anchor="start" font-weight="normal" fill="#111" >43.4°</text>
<text x="639.69" y="1366.55" font-size="16.4" text-anchor="start" font-weight="normal" fill="#111" >41.1°</text>
<text x="738.30" y="1330.35" font-size="16.4" text-anchor="end" font-weight="normal" fill="#111" >50</text>
<text x="738.30" y="1348.45" font-size="16.4" text-anchor="end" font-weight="normal" fill="#111" >10</text>
<text x="738.30" y="1366.55" font-size="16.4" text-anchor="end" font-weight="normal" fill="#111" >11</text>
<text x="30.34" y="1471.50" font-size="16.4" text-anchor="start" font-weight="bold" fill="#111" >3.0</text>
<text x="291.70" y="1450.50" font-size="16.4" text-anchor="middle" font-weight="normal" fill="#111" >5.67</text>
<text x="291.70" y="1471.50" font-size="16.4" text-anchor="middle" font-weight="normal" fill="#111" >5.23</text>
<text x="573.89" y="1436.80" font-size="16.4" text-anchor="start" font-weight="normal" fill="#111" >E(0°)</text>
<text x="573.89" y="1454.90" font-size="16.4" text-anchor="start" font-weight="normal" fill="#111" >E(C90)</text>
<text x="573.89" y="1473.00" font-size="16.4" text-anchor="start" font-weight="normal" fill="#111" >E(C0)</text>
<text x="639.69" y="1454.90" font-size="16.4" text-anchor="start" font-weight="normal" fill="#111" >43.4°</text>
<text x="639.69" y="1473.00" font-size="16.4" text-anchor="start" font-weight="normal" fill="#111" >41.1°</text>
<text x="738.30" y="1436.80" font-size="16.4" text-anchor="end" font-weight="normal" fill="#111" >35</text>
<text x="738.30" y="1454.90" font-size="16.4" text-anchor="end" font-weight="normal" fill="#111" >7</text>
<text x="738.30" y="1473.00" font-size="16.4" text-anchor="end" font-weight="normal" fill="#111" >7</text>
<text x="29.96" y="1503.10" font-size="16.4" text-anchor="start" font-weight="normal" fill="#111" >Separación</text>
<text x="231.09" y="1503.10" font-size="16.4" text-anchor="start" font-weight="normal" fill="#111" >Diámetro cónico</text>
<text x="590.72" y="1503.10" font-size="16.4" text-anchor="start" font-weight="normal" fill="#111" >Intensidad lumínica</text>
<line x1="26" y1="1518.2" x2="73.9" y2="1518.2" stroke="#f33" stroke-width="1.2"/>
<line x1="26" y1="1538.1" x2="73.9" y2="1538.1" stroke="#33f" stroke-width="1.2"/>
<text x="78.88" y="1526.30" font-size="16.4" text-anchor="start" font-weight="normal" fill="#111" >C0 - C180 (Semiángulo de dispersión: 82.2°)</text>
<text x="78.88" y="1546.00" font-size="16.4" text-anchor="start" font-weight="normal" fill="#111" >C90 - C270 (Semiángulo de dispersión: 86.8°)</text>
</svg>
</body></html>
